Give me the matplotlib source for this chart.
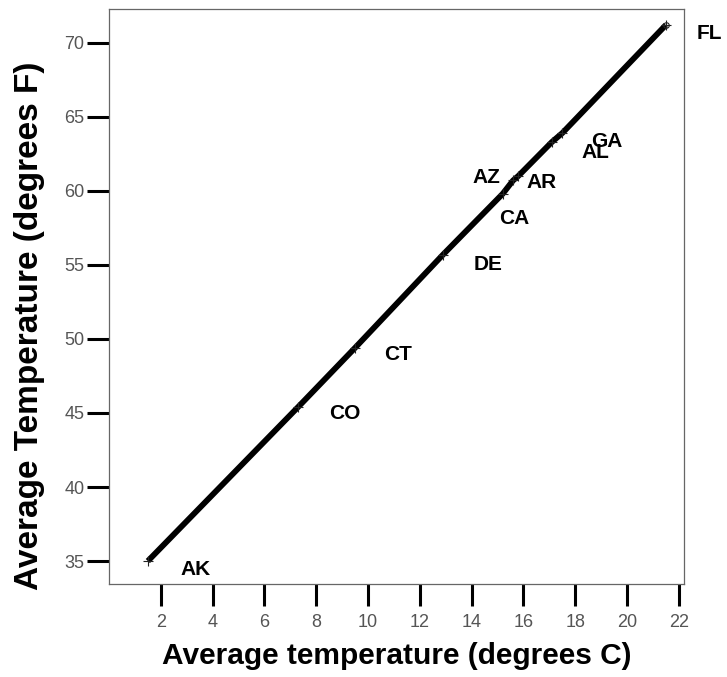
import matplotlib
matplotlib.use("Agg")
import matplotlib.pyplot as plt

# average temperature per state
states = ["AK", "CO", "CT", "DE", "CA", "AZ", "AR", "AL", "GA", "FL"]
temp_c = [1.5, 7.3, 9.5, 12.9, 15.2, 15.6, 15.8, 17.1, 17.5, 21.5]
temp_f = [35.0, 45.4, 49.4, 55.7, 59.8, 60.7, 61.0, 63.3, 63.9, 71.2]

x_ticks = [2, 4, 6, 8, 10, 12, 14, 16, 18, 20, 22]
y_ticks = [35, 40, 45, 50, 55, 60, 65, 70]

# label offsets (pixels) from each point
label_dx = [48, 47, 43, 45, 12, -27, 23, 44, 45, 44]
label_dy = [-8, -6, -7, -10, -25, 3, -6, -11, -8, -9]

plt.rcParams["font.family"] = ["Liberation Sans", "DejaVu Sans"]

fig = plt.figure(figsize=(7.27, 6.77), dpi=100)
ax = fig.add_axes([109 / 727, 1 - 584 / 677, 575 / 727, 574.7 / 677])

ax.plot(temp_c, temp_f, color="black", lw=4.2, solid_capstyle="butt", zorder=2)
ax.plot(temp_c, temp_f, ls="none", marker="+", ms=7, mew=0.8, color="#222222", zorder=3)
ax.plot(temp_c[-1:], temp_f[-1:], ls="none", marker="o", ms=4, mfc="none",
        mec="#222222", mew=0.8, zorder=3)

for s, x, y, dx, dy in zip(states, temp_c, temp_f, label_dx, label_dy):
    ax.annotate(s, (x, y), xytext=(dx, dy), textcoords="offset pixels",
                ha="center", va="center", fontsize=15, fontweight="bold",
                annotation_clip=False)

ax.set_xlim(0, 22.2)
ax.set_ylim(33.45, 72.26)
ax.set_xticks(x_ticks)
ax.set_yticks(y_ticks)
ax.tick_params(length=15.8, width=2.2, color="black", labelsize=13,
               labelcolor="#555555")
ax.tick_params(axis="x", pad=6)
ax.tick_params(axis="y", pad=2)

for sp in ax.spines.values():
    sp.set_color("#666666")
    sp.set_linewidth(0.9)

ax.set_xlabel("Average temperature (degrees C)", fontsize=21.5, fontweight="bold",
              labelpad=8)
ax.set_ylabel("Average Temperature (degrees F)", fontsize=24, fontweight="bold")
ax.yaxis.set_label_coords(-0.111, 0.45)

fig.savefig("out.png", dpi=100)
